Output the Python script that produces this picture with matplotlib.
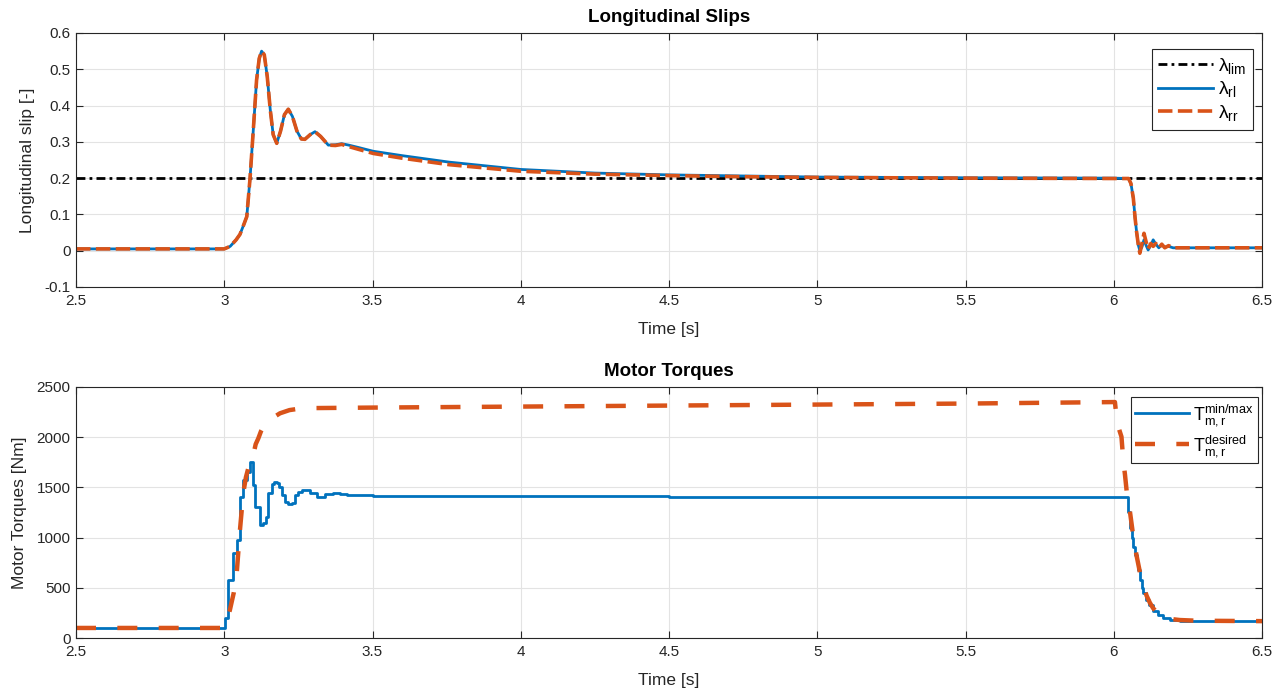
import numpy as np
import matplotlib
matplotlib.use("Agg")
import matplotlib.pyplot as plt

plt.rcParams['font.family'] = ['Liberation Sans', 'DejaVu Sans']
plt.rcParams['mathtext.fontset'] = 'custom'
plt.rcParams['mathtext.rm'] = 'Liberation Sans'
plt.rcParams['mathtext.it'] = 'Liberation Sans:italic'

# ---------------- data: longitudinal slips ----------------
t_slip = [2.5, 3.0, 3.02, 3.04, 3.053, 3.065, 3.076, 3.087, 3.098, 3.109, 3.118,
          3.126, 3.135, 3.145, 3.155, 3.165, 3.177, 3.19, 3.203, 3.216, 3.23,
          3.245, 3.26, 3.272, 3.29, 3.306, 3.325, 3.351, 3.375, 3.396, 3.42,
          3.45, 3.503, 3.6, 3.76, 4.0, 4.25, 4.5, 4.75, 5.0, 5.5, 6.0, 6.05,
          6.058, 6.066, 6.072, 6.077, 6.083, 6.088, 6.095, 6.102, 6.109,
          6.116, 6.125, 6.133, 6.142, 6.152, 6.162, 6.172, 6.185, 6.2, 6.25, 6.5]
slip_rl = [0.005, 0.005, 0.012, 0.03, 0.045, 0.07, 0.094, 0.2, 0.333, 0.47, 0.53,
           0.550, 0.54, 0.48, 0.39, 0.32, 0.296, 0.33, 0.375, 0.390, 0.37,
           0.33, 0.308, 0.307, 0.32, 0.328, 0.315, 0.291, 0.292, 0.295, 0.291,
           0.285, 0.274, 0.262, 0.244, 0.224, 0.214, 0.209, 0.206, 0.203, 0.201, 0.200, 0.199,
           0.185, 0.145, 0.09, 0.052, 0.015, 0.0, 0.01, 0.03, 0.015,
           0.002, 0.015, 0.03, 0.018, 0.008, 0.016, 0.01, 0.012, 0.008, 0.008, 0.008]
slip_rr = [0.005, 0.005, 0.012, 0.03, 0.045, 0.07, 0.094, 0.2, 0.333, 0.47, 0.53,
           0.550, 0.54, 0.48, 0.39, 0.32, 0.296, 0.33, 0.375, 0.390, 0.37,
           0.33, 0.308, 0.307, 0.32, 0.328, 0.315, 0.291, 0.290, 0.293, 0.287,
           0.280, 0.268, 0.255, 0.237, 0.219, 0.211, 0.207, 0.204, 0.202, 0.200, 0.199, 0.199,
           0.185, 0.145, 0.09, 0.052, 0.015, -0.007, 0.02, 0.048, 0.025,
           0.005, 0.02, 0.012, 0.02, 0.008, 0.018, 0.008, 0.014, 0.008, 0.008, 0.008]
slip_lim = 0.2

# ---------------- data: motor torques ----------------
t_tmax = [2.5, 3.003, 3.014, 3.03, 3.042, 3.053, 3.064, 3.076, 3.087, 3.098,
          3.104, 3.121, 3.132, 3.14, 3.149, 3.16, 3.168, 3.177, 3.186, 3.195,
          3.205, 3.215, 3.228, 3.24, 3.25, 3.262, 3.272, 3.29, 3.312, 3.34,
          3.368, 3.39, 3.413, 3.5, 4.5, 6.048, 6.055, 6.061, 6.066, 6.072,
          6.078, 6.083, 6.089, 6.094, 6.1, 6.11, 6.12, 6.133, 6.15, 6.166,
          6.19, 6.223, 6.28, 6.4, 6.5]
torque_minmax = [100, 196, 578, 843, 976, 1407, 1574, 1650, 1756, 1524,
                 1300, 1125, 1150, 1208, 1441, 1530, 1557, 1540, 1507, 1420,
                 1357, 1334, 1340, 1424, 1450, 1474, 1470, 1440, 1407, 1430,
                 1441, 1430, 1424, 1418, 1408, 1258, 1092, 1000, 909,
                 830, 760, 680, 578, 500, 445, 380, 329, 270, 229,
                 195, 179, 172, 170, 169, 169]

t_tdes = [2.5, 3.0, 3.01, 3.019, 3.032, 3.042, 3.053, 3.064, 3.073, 3.081,
          3.09, 3.098, 3.106, 3.115, 3.124, 3.132, 3.15, 3.17, 3.188, 3.22,
          3.255, 3.3, 3.5, 4.0, 4.5, 5.0, 5.5, 6.004, 6.011, 6.02, 6.026, 6.032,
          6.038, 6.044, 6.049, 6.055, 6.066, 6.077, 6.089, 6.1, 6.111, 6.122,
          6.133, 6.15, 6.167, 6.19, 6.223, 6.28, 6.5]
torque_desired = [100, 100, 180, 279, 450, 644, 1076, 1441, 1600, 1690,
                  1780, 1823, 1930, 1989, 2060, 2105, 2160, 2205, 2238, 2270,
                  2285, 2290, 2295, 2305, 2315, 2325, 2335, 2350, 2150, 2060, 2005, 1773,
                  1623, 1450, 1391, 1250, 1009, 820, 644, 520, 420, 350,
                  296, 240, 210, 190, 179, 172, 168]

# ---------------- styles ----------------
blue = '#0072BD'
orange = '#D95319'
xticks = [2.5, 3, 3.5, 4, 4.5, 5, 5.5, 6, 6.5]
xticklabels = ['2.5', '3', '3.5', '4', '4.5', '5', '5.5', '6', '6.5']
TICK_FS = 11
LABEL_FS = 12.5
TITLE_FS = 13.5

fig = plt.figure(figsize=(12.83, 6.93), dpi=100)
ax1 = fig.add_axes([76/1283, 1-287/693, 1186/1283, 254/693])
ax2 = fig.add_axes([76/1283, 1-638/693, 1186/1283, 251/693])


def style(ax):
    ax.grid(True, color='#E3E3E3', linewidth=0.8)
    ax.set_axisbelow(True)
    for s in ax.spines.values():
        s.set_color('#262626')
        s.set_linewidth(0.8)
    ax.tick_params(direction='in', top=True, right=True, length=5,
                   labelsize=TICK_FS, colors='#262626', width=0.8)
    ax.tick_params(axis='x', pad=5)
    ax.tick_params(axis='y', pad=4)
    ax.set_xlim(2.5, 6.5)
    ax.set_xticks(xticks)
    ax.set_xticklabels(xticklabels)
    ax.set_xlabel('Time [s]', fontsize=LABEL_FS, color='#262626', labelpad=10)


# top
ax1.plot([2.5, 6.5], [slip_lim, slip_lim], color='black', linestyle=(0, (3.2, 1.5, 1, 1.5)),
         linewidth=2, label=r'λ$_{\mathrm{lim}}$')
ax1.plot(t_slip, slip_rl, color=blue, linewidth=2, label=r'λ$_{\mathrm{rl}}$')
ax1.plot(t_slip, slip_rr, color=orange, linewidth=2.6, linestyle=(0, (4, 1.5)),
         label=r'λ$_{\mathrm{rr}}$')
style(ax1)
ax1.set_ylim(-0.1, 0.6)
ax1.set_yticks([-0.1, 0, 0.1, 0.2, 0.3, 0.4, 0.5, 0.6])
ax1.set_yticklabels(['-0.1', '0', '0.1', '0.2', '0.3', '0.4', '0.5', '0.6'])
ax1.set_ylabel('Longitudinal slip [-]', fontsize=LABEL_FS, color='#262626', labelpad=7)
ax1.set_title('Longitudinal Slips', fontsize=TITLE_FS, fontweight='bold', pad=8)
leg1 = ax1.legend(loc='upper right', bbox_to_anchor=(0.9924, 0.937), borderaxespad=0,
                  fontsize=14, fancybox=False, edgecolor='#262626', framealpha=1,
                  handlelength=2.8, borderpad=0.35, labelspacing=0.18, handletextpad=0.25)
leg1.get_frame().set_linewidth(0.8)

# bottom
ax2.plot(t_tmax, torque_minmax, color=blue, linewidth=2, drawstyle='steps-post',
         label=r'$\mathrm{T}_{\mathrm{m,r}}^{\mathrm{min/max}}$')
ax2.plot(t_tdes, torque_desired, color=orange, linewidth=3.2, linestyle=(0, (4.5, 4.8)),
         label=r'$\mathrm{T}_{\mathrm{m,r}}^{\mathrm{desired}}$')
style(ax2)
ax2.set_ylim(0, 2500)
ax2.set_yticks([0, 500, 1000, 1500, 2000, 2500])
ax2.set_ylabel('Motor Torques [Nm]', fontsize=LABEL_FS, color='#262626', labelpad=7)
ax2.set_title('Motor Torques', fontsize=TITLE_FS, fontweight='bold', pad=8)
leg2 = ax2.legend(loc='upper right', bbox_to_anchor=(0.9966, 0.960), borderaxespad=0,
                  fontsize=13, fancybox=False, edgecolor='#262626', framealpha=1,
                  handlelength=3.0, borderpad=0.25, labelspacing=0.3, handletextpad=0.2)
leg2.get_frame().set_linewidth(0.8)

fig.savefig('out.png', dpi=100)
